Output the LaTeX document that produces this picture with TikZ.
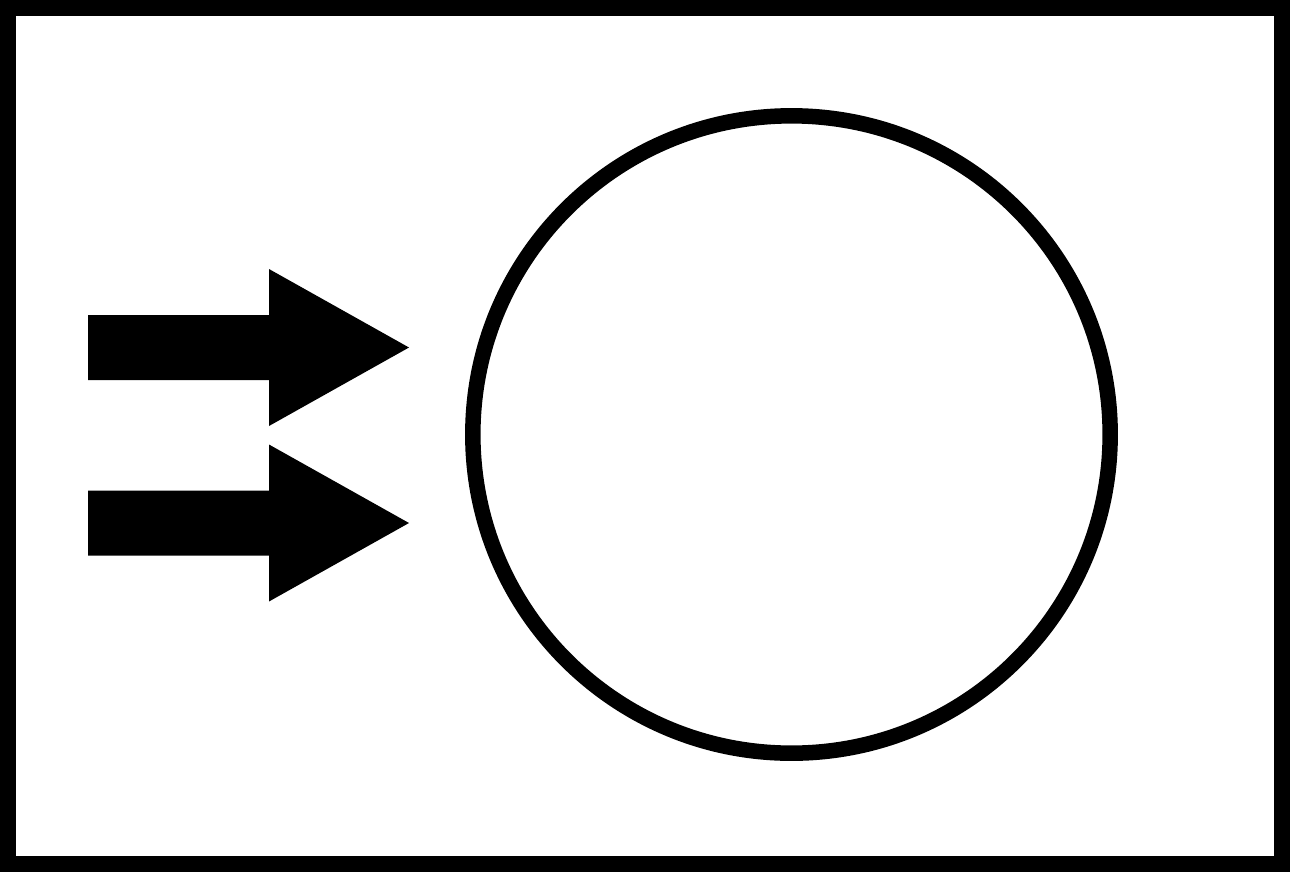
\documentclass[tikz,border=0pt]{standalone}
\begin{document}
\begin{tikzpicture}[x=0.01cm, y=-0.01cm,
        frame/.style={draw, line width=0.16cm},
        ring/.style={draw, circle, line width=0.155cm, minimum size=6.37cm, inner sep=0pt},
        blockarrow/.style={fill=black, draw=none}]
    \useasboundingbox (0, 0) rectangle (1290, 872);

    % Frame
    \draw[frame] (8, 7.5) rectangle (1282, 863.5);

    % Circle
    \node[ring] at (791.5, 434.5) (circ) {};

    % Arrows
    \foreach \ytip in {347.5, 523} {
        \fill[blockarrow] (88, \ytip - 32.5) -- (269, \ytip - 32.5) -- (269, \ytip - 78.5)
            -- (409, \ytip) -- (269, \ytip + 78.5) -- (269, \ytip + 32.5)
            -- (88, \ytip + 32.5) -- cycle;
    }
\end{tikzpicture}
\end{document}
